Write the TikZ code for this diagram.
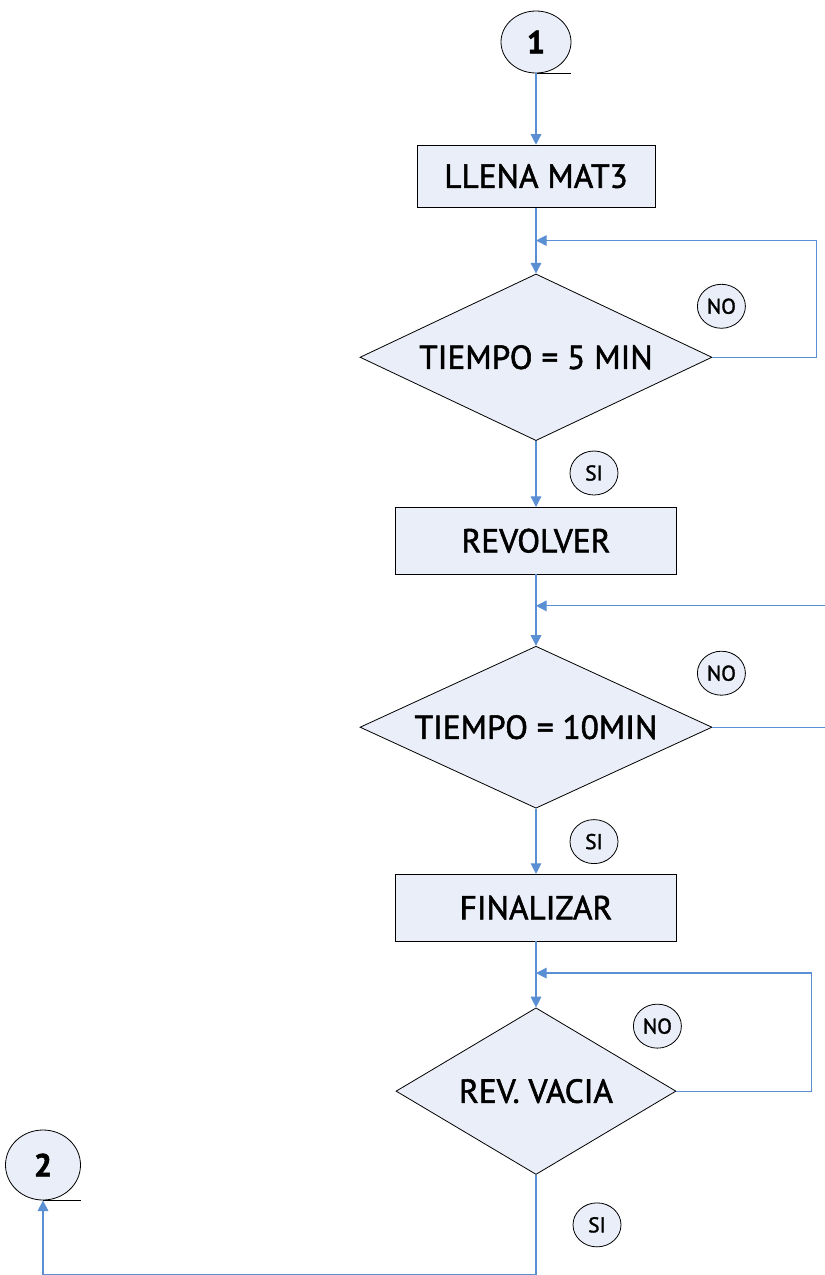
\documentclass[tikz,border=0pt]{standalone}
\usepackage{fontspec}
\setmainfont{PT Sans}[FakeBold=1.6]
\usetikzlibrary{arrows.meta,positioning,shapes.geometric,calc}
\definecolor{flowblue}{HTML}{5B8FD4}
\definecolor{boxfill}{HTML}{E9EEF8}

\begin{document}
\begin{tikzpicture}[x=0.75pt, y=-0.75pt,
  font=\fontsize{25}{30}\selectfont,
  box/.style={draw, fill=boxfill, line width=0.6pt, minimum width=210.75pt, minimum height=50pt, inner sep=0pt},
  test/.style={draw, diamond, aspect=2.1, fill=boxfill, line width=0.6pt, minimum width=264pt, minimum height=125pt, inner sep=0pt},
  conn/.style={draw, ellipse, fill=boxfill, line width=0.6pt, inner sep=0pt, font=\fontsize{24}{26}\selectfont\bfseries},
  tag/.style={draw, ellipse, fill=boxfill, line width=0.6pt, minimum width=36pt, minimum height=33pt, inner sep=0pt, font=\fontsize{16}{18}\selectfont},
  flow/.style={draw=flowblue, line width=0.9pt},
  >={Triangle[length=8pt, width=8pt]}, node distance=49.5pt]
\useasboundingbox (0,0) rectangle (825,1275);
% main column
\node[conn, minimum width=52.5pt, minimum height=46.5pt] (c1) at (536,42) {1};
\node[box, below=53.5pt of c1, minimum width=178.5pt, minimum height=46.5pt] (llena) {LLENA MAT3};
\node[test, below=of llena] (t5) {TIEMPO = 5 MIN};
\node[box, below=of t5] (rev) {REVOLVER};
\node[test, below=53.5pt of rev, minimum height=121.5pt] (t10) {TIEMPO = 10MIN};
\node[box, below=49pt of t10] (fin) {FINALIZAR};
\node[test, below=49.5pt of fin, minimum width=210pt] (vacia) {REV. VACIA};
\node[conn, minimum width=56.25pt, minimum height=52.5pt] (c2) at (43,1165) {2};
% answers
\node[tag] (no5) at ($(t5.east)+(9,-51)$) {NO};
\node[tag] (si5) at ($(t5.south)+(58,32)$) {SI};
\node[tag] (no10) at ($(t10.east)+(9,-54)$) {NO};
\node[tag] (si10) at ($(t10.south)+(58,33)$) {SI};
\node[tag] (novac) at ($(vacia.east)+(-19,-65)$) {NO};
\node[tag] (sivac) at ($(vacia.south)+(61,50)$) {SI};
% connector marks
\draw[line width=0.6pt] (c1.south) -- ++(35,0);
\draw[line width=0.6pt] (c2.south) -- ++(38,0);
% flow
\draw[flow,->] (c1.south) -- (llena.north);
\draw[flow,->] (llena.south) -- (t5.north);
\draw[flow,->] (t5.south) -- (rev.north);
\draw[flow,->] (rev.south) -- (t10.north);
\draw[flow,->] (t10.south) -- (fin.north);
\draw[flow,->] (fin.south) -- (vacia.north);
\draw[flow,->] (t5.east) -- ++(104,0) |- ($(llena.south)!0.5!(t5.north)$);
\draw[flow,->] (t10.east) -- ++(116,0) |- ($(rev.south)!0.44!(t10.north)$);
\draw[flow,->] (vacia.east) -- ++(135,0) |- ($(fin.south)!0.48!(vacia.north)$);
\coordinate (back) at ($(vacia.south)+(0,100)$);
\draw[flow,->] (vacia.south) -- (back) -| (c2.south);
\end{tikzpicture}
\end{document}
